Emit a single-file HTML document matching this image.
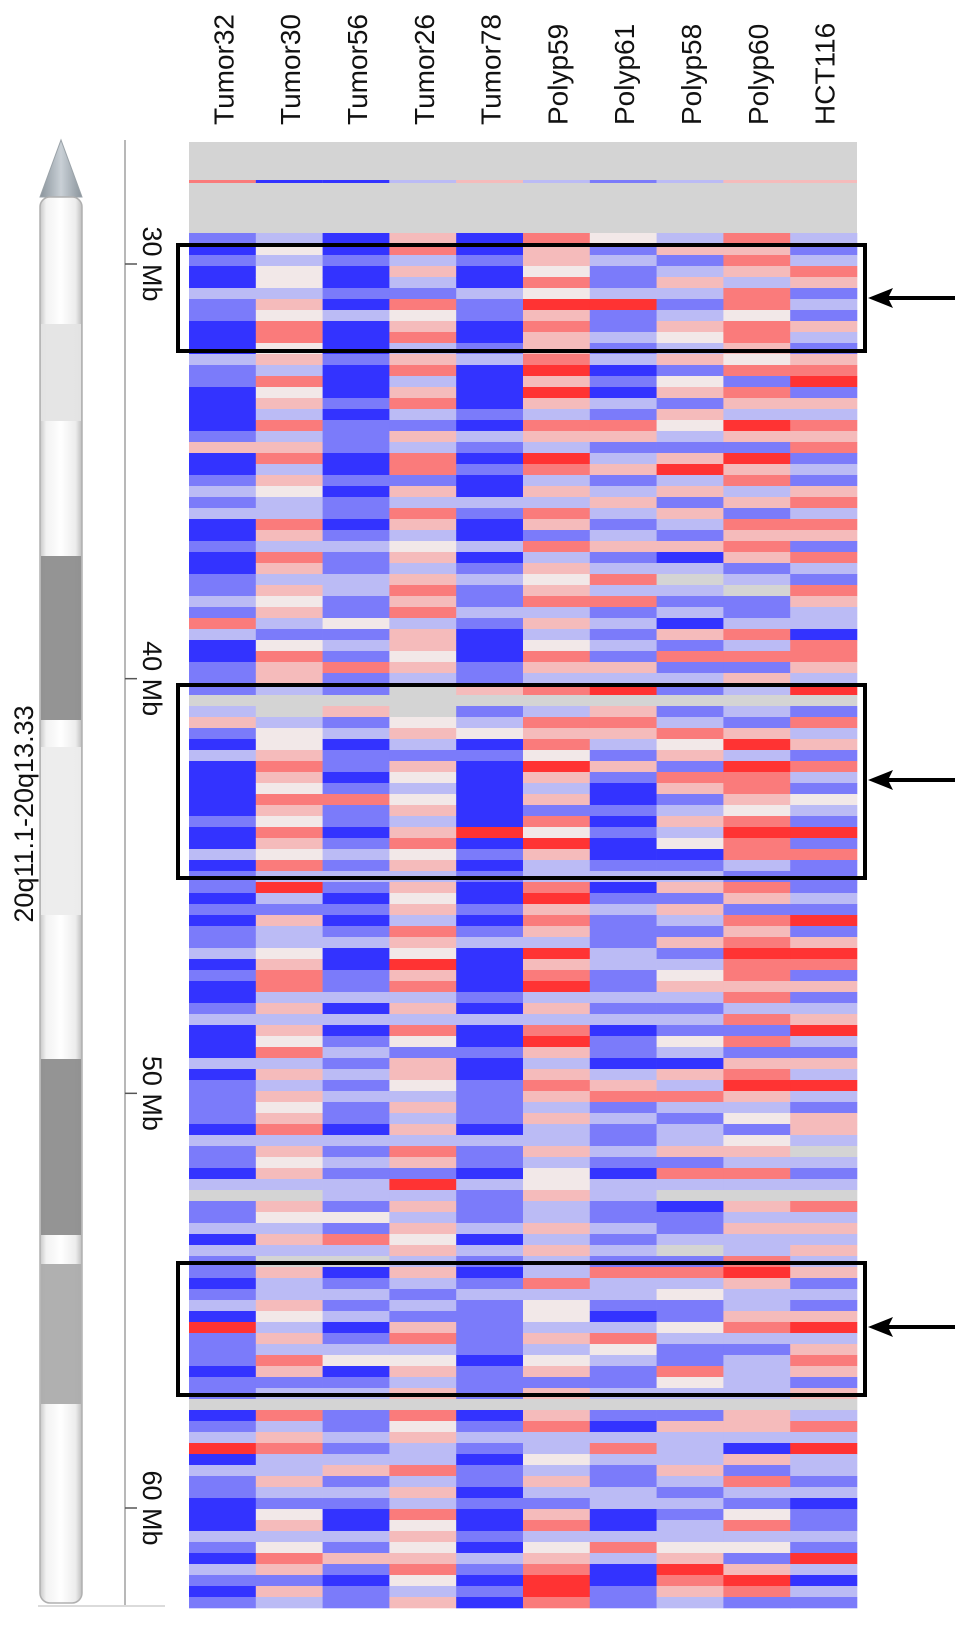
<!DOCTYPE html>
<html><head><meta charset="utf-8">
<style>
html,body{margin:0;padding:0;background:#fff;}
svg{display:block;font-family:"Liberation Sans",Arial,sans-serif;}
</style></head>
<body>
<svg id="chart" width="969" height="1629" viewBox="0 0 969 1629" xmlns="http://www.w3.org/2000/svg">
<defs>
<linearGradient id="cyl" x1="0" x2="1" y1="0" y2="0">
<stop offset="0" stop-color="#c8c8c8"/><stop offset="0.15" stop-color="#f2f2f2"/><stop offset="0.5" stop-color="#ffffff"/><stop offset="0.85" stop-color="#ececec"/><stop offset="1" stop-color="#bdbdbd"/>
</linearGradient>
<linearGradient id="cone" x1="0" x2="1" y1="0" y2="0">
<stop offset="0" stop-color="#8a949c"/><stop offset="0.5" stop-color="#c9d0d6"/><stop offset="1" stop-color="#8a949c"/>
</linearGradient>
</defs>
<g id="ideogram"></g>
<g id="axis"></g>
<g id="heat"></g>
<g id="labels"></g>
<g id="boxes"></g>
</svg>
<script>
const samples = ["Tumor32","Tumor30","Tumor56","Tumor26","Tumor78","Polyp59","Polyp61","Polyp58","Polyp60","HCT116"];
// per-sample copy-number codes, one char per genomic bin (B=-2 b=-1.2 l=-0.5 w=0 p=0.5 r=1.2 R=2 g=no data)
const tumor32 = "bBbBBlbbBBBlbbBBBBbpBBblblBBbBBbblbrlBBbbbglpbBlBBBBBbBBlBbbBbBbblBbBBblBBBlBbbbbBlbbBlgbblBlbbBblBRbbbBbbgBblRBlbbBBBlbBlbBb";
const tumor30 = "lwlwwlpwrrwplrwplrlprlpwllrplrplpwplbwrpplgglwwprpwrpwrpwrlRlbpllwprrlplpwrlplpwprlpwplgpwlplgpllpwlplrpblgrlprllplbwplwrpbpl";
const tumor56 = "BBbBBbBlBBBbBBBbBbbbBBbBbbBblbbllbbwblbrbbgpblBbbBbrbbBblblbBbBblBBbblBlBblblblbbBlblbllbwbrlgBblblBblwBblgbblblpblbBBlbpbBbb";
const tumor26 = "prlplbrwprlprlprlbplrrbplrplwplprprlppwplgggwplbpwlwplprwplpwplrpwRprlplrwbppwlplplrpbRlplpwplplblbprlwplpgrwpllrlplrwpwprwlp";
const tumor78 = "BBbBBlbbBBblBBBBbBlbBbBBlbBBlBblbblbBBBbbpgblwBbBBBBBBRBbBbBBbBblBBBBbBlBBbBBbbbbBlbbBlbbblBlbBblbbbbbBbbbgBblbBbbBbBBbBlbBbB";
const polyp59 = "rppwrwRprpprRpRplrplRrlplrpbrlpwprlplwrplrglrprwRplpbrwRpllrRprplRprRlplrRplprplpllplwwpllplpllrlwwlplwpbpgprllwlplbprlwprRRr";
const polyp61 = "wblbblRbblblBbBlbrpblpblplblpblrlrblblbplRgprplbpbBBbBbBBblBblbbbllbblblBbbBlprblbblbBllbblblbrllbBlrwlbblgbBlrlbbllBBlrlBBbb";
const polyp58 = "lpblplblpwlpbwpbpwlbpRlpbplbpBlglblBpbrblbgblrwpbrpblplwBblpbplbpblwplblbwlBplrlbllpbrlgBbblgbrlwbbwlbbrwlgbplllplblbllwpRrpl";
const polyp60 = "rprplrrwrrpwrbrplRpbRprlpbrprpblgbblrlrbplglbpRlRrrpwrRrrlbrpbrprRrrprlrbrbprRplwbwplrlgplpllrRpllprlbllllgpplBpbrlbwrlwbpRrb";
const hct116 = "lblrpblbplbprRbplrprblbprlrpbrlbrpllBrrplRgbrlpbrlbwlbRbrbbblbRbpRrbpblpRlbplRlbpplglblgrlplplpblbpRlprpbpglrlRllblBbblbRlBlb";
const topRowCodes = "rBBlplblpp";
const tickLabels = ["30 Mb","40 Mb","50 Mb","60 Mb"];
const tickMb = [30,40,50,60];
const codeValue = {B:-2,b:-1.2,l:-0.5,w:0,p:0.5,r:1.2,R:2,g:null};

const series = [tumor32,tumor30,tumor56,tumor26,tumor78,polyp59,polyp61,polyp58,polyp60,hct116];
const NS = "http://www.w3.org/2000/svg";
function mk(tag, attrs, parent){const e=document.createElementNS(NS,tag);for(const k in attrs)e.setAttribute(k,attrs[k]);parent.appendChild(e);return e;}
function mix(a,b,t){return a.map((v,i)=>Math.round(v+(b[i]-v)*t));}
function color(v){
  if(v===null) return "#d4d4d4";
  const t=Math.min(1,Math.abs(v)/2);
  const c = v<0 ? mix([232,232,242],[51,51,255],t) : mix([242,232,232],[255,51,51],t);
  return "rgb("+c.join(",")+")";
}
// axes / scales
const X0=189, X1=857, Y0=233, Y1=1608;
const nBins = tumor32.length;
const colW=(X1-X0)/samples.length;
const xScale = i => X0 + i*colW;
const yScale = r => Y0 + r*(Y1-Y0)/nBins;
const mbScale = mb => 264 + (mb-30)*(1508-264)/30;

// ideogram
const ideo=document.getElementById("ideogram");
const cone=mk("path",{d:"M40 197 L61 140 L82 197 Z",fill:"url(#cone)",stroke:"#9aa2a8","stroke-width":"1"},ideo);


const body=mk("rect",{x:40,y:197,width:42,height:1406,rx:10,fill:"url(#cyl)",stroke:"#b0b0b0","stroke-width":"1.5"},ideo);


const bands=[[324,421,"#e4e4e4"],[556,720,"#8e8e8e"],[747,915,"#ececec"],[1059,1235,"#8e8e8e"],[1264,1404,"#acacac"]];
bands.forEach((b,i)=>{
  const r=mk("rect",{x:41,y:b[0],width:40,height:b[1]-b[0],fill:b[2],opacity:"0.95"},ideo);
  
  
});
const chrLabel=mk("text",{transform:"translate(33,814) rotate(-90)","text-anchor":"middle","font-size":"27",fill:"#111"},ideo);
chrLabel.textContent="20q11.1-20q13.33";



// axis
const ax=document.getElementById("axis");
const axl=mk("line",{x1:125,y1:140,x2:125,y2:1605,stroke:"#b8b8b8","stroke-width":"2"},ax);


const base=mk("line",{x1:38,y1:1606,x2:165,y2:1606,stroke:"#cfcfcf","stroke-width":"1.5"},ax);


tickMb.forEach((mb,i)=>{
  const y=mbScale(mb);
  const t=mk("line",{x1:125,y1:y,x2:137,y2:y,stroke:"#555","stroke-width":"1.5"},ax);
  
  
  const l=mk("text",{transform:"translate(143,"+y+") rotate(90)","text-anchor":"middle","font-size":"27",fill:"#111"},ax);
  l.textContent=tickLabels[i];
  
  
});

// heatmap
const hm=document.getElementById("heat");
const bg=mk("rect",{x:X0,y:142,width:X1-X0,height:Y1-142,fill:"#d4d4d4"},hm);


samples.forEach((s,i)=>{
  const tr=mk("rect",{x:xScale(i),y:180,width:colW,height:3,fill:color(codeValue[topRowCodes[i]])},hm);
  
  
  const codes=series[i];
  for(let r=0;r<codes.length;r++){
    const v=codeValue[codes[r]];
    const c=mk("rect",{x:xScale(i),y:yScale(r),width:colW+0.3,height:(Y1-Y0)/nBins+0.3,fill:color(v)},hm);
    
    
  }
});

// labels
const lb=document.getElementById("labels");
samples.forEach((s,i)=>{
  const cx=xScale(i)+colW/2;
  const t=mk("text",{transform:"translate("+(cx+11)+",125) rotate(-90)","text-anchor":"start","font-size":"28",fill:"#111"},lb);
  t.textContent=s;
  
  
});

// boxes and arrows
const bx=document.getElementById("boxes");
[[245,351,298],[685,878,780],[1263,1395,1327]].forEach(b=>{
  const r=mk("rect",{x:178,y:b[0],width:687,height:b[1]-b[0],fill:"none",stroke:"#000","stroke-width":"4"},bx);
  
  
  const a=mk("g",{},bx);
  
  
  mk("line",{x1:885,y1:b[2],x2:955,y2:b[2],stroke:"#000","stroke-width":"4"},a);
  mk("path",{d:"M868 "+b[2]+" L893 "+(b[2]-10)+" L888 "+b[2]+" L893 "+(b[2]+10)+" Z",fill:"#000"},a);
});
</script>
</body></html>
